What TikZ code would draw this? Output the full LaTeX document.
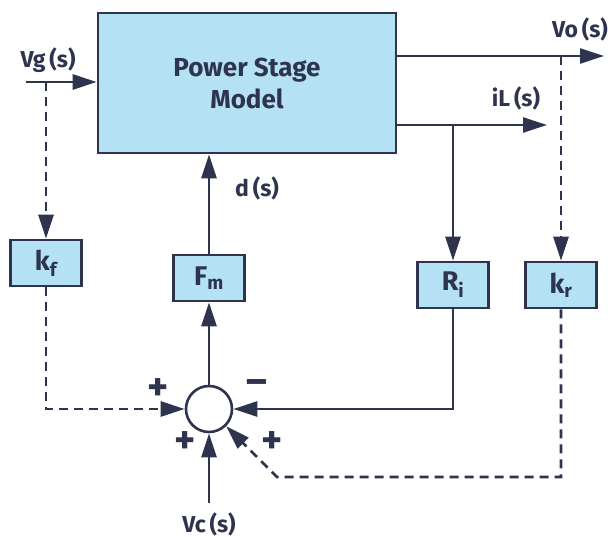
\documentclass[tikz,border=0pt]{standalone}
\usepackage{fontspec}
\setmainfont{Fira Sans}
\usepackage{xcolor}
\definecolor{linenavy}{RGB}{46,52,77}
\definecolor{blockblue}{RGB}{181,225,245}
\usetikzlibrary{positioning,arrows.meta,calc}

\begin{document}
\begin{tikzpicture}[x=1pt,y=-1pt,text=linenavy,font=\bfseries\fontsize{23}{26}\selectfont,
  blk/.style={draw=linenavy,fill=blockblue,line width=2.6pt,minimum width=71pt,minimum height=46pt,inner sep=0pt,
              font=\bfseries\fontsize{27}{30}\selectfont},
  sig/.style={draw=linenavy,line width=2.6pt,-{Triangle[length=24pt,width=15pt]}},
  fb/.style={sig,dash pattern=on 9pt off 6pt},
  sgn/.style={inner sep=0pt,font=\bfseries\fontsize{40}{40}\selectfont}]
  \useasboundingbox (0,0) rectangle (615,537);
  % Bloques
  \node[blk,minimum width=298pt,minimum height=140pt,align=center,
        font=\bfseries\fontsize{26}{32}\selectfont] (psm) at (247,83) {Power Stage\\Model};
  \node[blk] (kf) at (46,263) {k\textsubscript{f}};
  \node[blk] (fm) at (209,278) {F\textsubscript{m}};
  \node[blk] (ri) at (453,285) {R\textsubscript{i}};
  \node[blk] (kr) at (561,285) {k\textsubscript{r}};
  \node[draw=linenavy,line width=2.6pt,circle,minimum size=46pt,inner sep=0pt] (sum) at (209,409) {};
  % Puntos de entrada, salida y derivacion
  \coordinate (vgin) at (26,82);
  \coordinate (vgtap) at (46,82);
  \coordinate (voend) at (604,56);
  \coordinate (votap) at (561,56);
  \coordinate (ilend) at (547,125);
  \coordinate (iltap) at (453,125);
  \coordinate (krbend) at (277,477);
  \coordinate (vcin) at (209,503);
  % Etiquetas
  \node (vg) at (48,60) {Vg\,(s)};
  \node (vo) at (580,29) {Vo\,(s)};
  \node (il) at (516,98) {iL\,(s)};
  \node (ds) at (257,188) {d\,(s)};
  \node (vc) at (209,524) {Vc\,(s)};
  \node[sgn] (sgnf) at (158,390) {+};
  \node[sgn] (sgni) at (257,387) {\textendash};
  \node[sgn] (sgnc) at (185,443) {+};
  \node[sgn] (sgnr) at (272,443) {+};
  % Senales
  \draw[sig] (vgin) -- (psm.west |- vgin);
  \draw[sig] (psm.east |- voend) -- (voend);
  \draw[sig] (psm.east |- ilend) -- (ilend);
  \draw[sig] (fm.north) -- (psm.south -| fm.north);
  \draw[sig] (sum.north) -- (fm.south);
  \draw[sig] (iltap) -- (ri.north);
  \draw[sig] (ri.south) |- (sum.east);
  \draw[sig] (vcin) -- (sum.south);
  % Realimentaciones
  \draw[fb] (vgtap) -- (kf.north);
  \draw[fb] (votap) -- (kr.north);
  \draw[fb] (kf.south) |- (sum.west);
  \draw[fb] (kr.south) |- (krbend) -- (sum.-45);
\end{tikzpicture}
\end{document}
